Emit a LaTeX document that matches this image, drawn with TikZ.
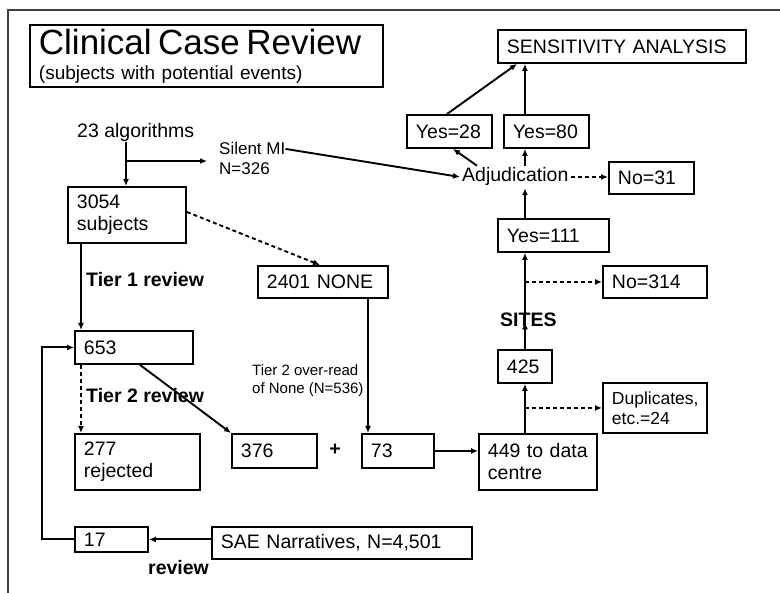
\documentclass[tikz,border=0pt]{standalone}
\usepackage{fontspec}
\setmainfont{Liberation Sans}
\usetikzlibrary{arrows.meta,positioning}

\tikzset{
 cbox/.style={draw, line width=1.9pt, anchor=north west, align=left, inner xsep=9pt, inner ysep=2pt, font=\fontsize{19.5}{22}\selectfont},
 flow/.style={line width=1.9pt, -{Latex[length=7pt,width=6pt]}},
 dflow/.style={flow, dash pattern=on 4pt off 3pt},
 lbl/.style={anchor=base west, inner sep=0pt, font=\fontsize{19.5}{22}\selectfont},
 blbl/.style={lbl, font=\fontsize{19.5}{22}\selectfont\bfseries},
}

\begin{document}
\begin{tikzpicture}[x=1pt, y=-1pt]
 \useasboundingbox (0,0) rectangle (780,593);
 \draw[line width=2pt, black!75] (8,593) -- (8,10) -- (780,10);

 % boxes
 \node[cbox, text width=335pt, minimum height=62pt] (title) at (29,24) {{\fontsize{35}{36}\selectfont Clinical Case Review}\\[3pt]{\fontsize{19}{20}\selectfont (subjects with potential events)}};
 \node[cbox, text width=230pt, minimum height=33pt] (sens) at (497,29) {SENSITIVITY ANALYSIS};
 \node[cbox, text width=67pt, minimum height=33pt] (yes28) at (406,114) {Yes=28};
 \node[cbox, text width=67pt, minimum height=33pt] (yes80) at (503,114) {Yes=80};
 \node[cbox, text width=67pt, minimum height=32pt] (no31) at (608,161) {No=31};
 \node[cbox, text width=93pt, minimum height=33pt] (yes111) at (497,218) {Yes=111};
 \node[cbox, text width=86pt, minimum height=32pt] (no314) at (602,265) {No=314};
 \node[cbox, text width=36pt, minimum height=33pt] (n425) at (497,349) {425};
 \node[cbox, text width=86pt, minimum height=50pt, font=\fontsize{17.5}{20}\selectfont] (dup) at (602,382) {Duplicates,\\etc.=24};
 \node[cbox, text width=100pt, minimum height=56pt] (n449) at (478,433) {449 to data\\centre};
 \node[cbox, text width=54pt, minimum height=34pt] (n73) at (361,433) {73};
 \node[cbox, text width=67pt, minimum height=34pt] (n376) at (231,433) {376};
 \node[cbox, text width=107pt, minimum height=56pt] (n277) at (74,433) {277\\rejected};
 \node[cbox, text width=100pt, minimum height=33pt] (n653) at (74,330) {653};
 \node[cbox, text width=100pt, minimum height=56pt] (subj) at (67,186) {3054\\subjects};
 \node[cbox, text width=112pt, minimum height=32pt] (none) at (257,265) {2401 NONE};
 \node[cbox, text width=55pt, minimum height=25pt] (n17) at (74,526) {17};
 \node[cbox, text width=242pt, minimum height=32pt] (sae) at (211,526) {SAE Narratives, N=4,501};

 % free labels
 \node[lbl] (alg) at (77,138) {23 algorithms};
 \node[lbl, font=\fontsize{17}{18}\selectfont] (silent) at (219,155) {Silent MI};
 \node[lbl, font=\fontsize{17}{18}\selectfont] (n326) at (219,175) {N=326};
 \node[lbl, inner sep=2pt] (adj) at (460,182) {Adjudication};
 \node[blbl] (tier1) at (86,287) {Tier 1 review};
 \node[blbl] (tier2) at (86,403) {Tier 2 review};
 \node[lbl, anchor=north west, align=left, font=\fontsize{15}{18.5}\selectfont] (over) at (252,364) {Tier 2 over-read\\of None (N=536)};
 \node[blbl, anchor=center] (plus) at (335,450) {+};
 \node[blbl] (sites) at (500,327) {SITES};
 \node[blbl] (rev) at (148,575) {review};

 % connectors
 \coordinate (split) at (126,161);
 \draw[flow] (alg.south -| split) -- (subj.north -| split);
 \draw[flow, shorten >=12pt] (split) -- (split -| silent.west);
 \draw[flow] (silent.east) -- (adj.west);
 \draw[flow] ([xshift=17pt]adj.north west) -- ([xshift=47pt]yes28.south west);
 \draw[flow] (adj.north -| n425) -- (yes80.south -| n425);
 \draw[flow] (yes80.north -| n425) -- (sens.south -| n425);
 \draw[flow] ([xshift=41pt]yes28.north west) -- ([xshift=20pt]sens.south west);
 \draw[dflow] (adj.east) -- (adj.east -| no31.west);
 \draw[flow] (yes111.north -| n425) -- (adj.south -| n425);
 \draw[flow] (n425.north) -- ([yshift=-2pt]sites.center -| n425);
 \draw[flow] ([yshift=-2pt]sites.center -| n425) -- (yes111.south -| n425);
 \draw[dflow] (n425 |- no314.west) -- (no314.west);
 \draw[flow] (n449.north -| n425) -- (n425.south);
 \draw[dflow] (n425 |- dup.west) -- (dup.west);
 \draw[flow] (n73.east) -- (n73.east -| n449.west);
 \coordinate (drop) at ([xshift=7pt]n73.north west);
 \draw[flow] (none.south -| drop) -- (drop);
 \draw[flow] ([xshift=66pt]n653.south west) -- (n376.north west);
 \draw[dflow] ([xshift=7pt]n653.south west) -- ([xshift=7pt]n277.north west);
 \draw[flow] ([xshift=14pt]subj.south west) -- ([xshift=7pt]n653.north west);
 \draw[dflow] ([yshift=-26pt]subj.north east) -- ([xshift=63pt]none.north west);
 \coordinate (back) at (42,540);
 \draw[flow] (n17.west) -- (n17.west -| back) |- (n653.west);
 \draw[flow] (sae.west |- n17.east) -- (n17.east);
\end{tikzpicture}
\end{document}
